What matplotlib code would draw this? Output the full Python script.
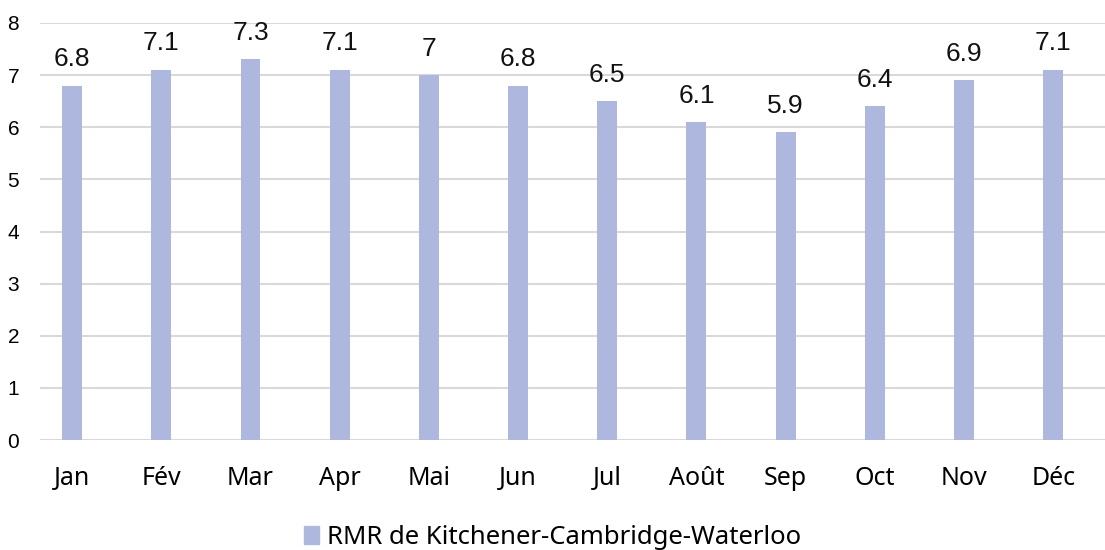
import numpy as np
import matplotlib.pyplot as plt
from matplotlib.patches import Patch

mois = ["Jan", "Fév", "Mar", "Apr", "Mai", "Jun",
        "Jul", "Août", "Sep", "Oct", "Nov", "Déc"]
valeurs = [6.8, 7.1, 7.3, 7.1, 7.0, 6.8, 6.5, 6.1, 5.9, 6.4, 6.9, 7.1]
serie = "RMR de Kitchener-Cambridge-Waterloo"
y_ticks = [0, 1, 2, 3, 4, 5, 6, 7, 8]

COULEUR = "#AEB7DE"
GRILLE = "#D9D9D9"


def fmt(v):
    return f"{v:g}"


def main():
    fig = plt.figure(figsize=(11.05, 5.5), dpi=100)
    ax = fig.add_axes([40 / 1105, 0.2, 1 - 40 / 1105, 417 / 550])

    x = np.arange(len(mois))
    ax.bar(x, valeurs, width=0.224, color=COULEUR, zorder=3)

    # etiquettes de donnees
    for xi, v in zip(x, valeurs):
        ax.annotate(fmt(v), (xi, v), xytext=(0, 14), textcoords="offset points",
                    ha="center", va="baseline", fontsize=19,
                    family="Liberation Sans", color="#111111")

    ax.set_xlim(-0.36, 11.58)
    ax.set_ylim(0, 8)
    ax.set_yticks(y_ticks)
    ax.set_yticklabels([str(t) for t in y_ticks], family="Liberation Sans",
                       fontsize=15)
    ax.set_xticks(x)
    ax.set_xticklabels(mois, family="Noto Sans", fontsize=18)
    ax.tick_params(axis="y", length=0, pad=15)
    ax.tick_params(axis="x", length=0, pad=19)

    ax.grid(axis="y", color=GRILLE, linewidth=1.5, zorder=0)
    for s in ax.spines.values():
        s.set_visible(False)

    fig.legend(handles=[Patch(color=COULEUR, label=serie)],
               loc="center", bbox_to_anchor=(0.5, 1 - 537 / 550),
               frameon=False, prop={"family": "Noto Sans", "size": 18.5},
               handlelength=0.6, handleheight=0.7, handletextpad=0.3)

    fig.savefig("out.png", dpi=100)


if __name__ == '__main__':
    main()
